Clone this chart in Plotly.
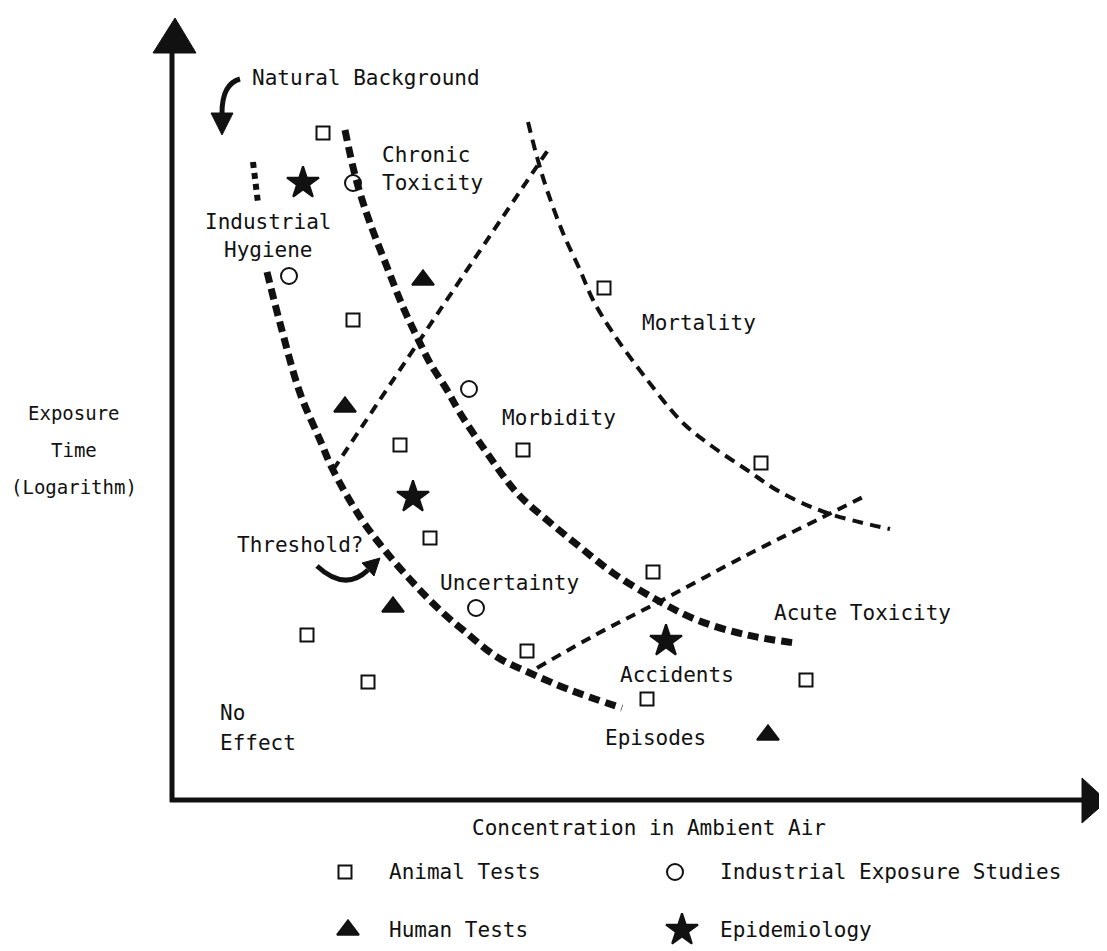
import plotly.graph_objects as go

# Schematic: concentration (x) vs exposure time (log, y), measured from the axis origin
animal_x = [151, 181, 228, 258, 351, 432, 589, 481, 355, 475, 634, 135, 196]
animal_y = [667, 480, 355, 262, 350, 512, 337, 228, 149, 101, 120, 165, 118]
industrial_x = [181, 117, 297, 304]
industrial_y = [617, 524, 411, 192]
human_x = [251, 173, 221, 596]
human_y = [520, 393, 193, 65]
epi_x = [131, 241, 494]
epi_y = [617, 303, 159]

# boundary curves
hygiene_top_x = [81, 86]
hygiene_top_y = [638, 597]
hygiene_x = [95, 108, 128, 148, 161, 188, 215, 245, 271, 291, 325, 358, 398, 450]
hygiene_y = [528, 477, 407, 360, 330, 283, 247, 213, 187, 170, 143, 127, 110, 92]
chronic_x = [173, 181, 188, 198, 215, 231, 245, 258, 275, 288, 315, 345, 375, 408, 441, 485, 525, 575, 623]
chronic_y = [670, 633, 607, 577, 533, 493, 463, 437, 410, 387, 347, 307, 280, 253, 227, 200, 180, 165, 157]
mortality_x = [356, 365, 375, 391, 408, 421, 441, 473, 511, 541, 575, 608, 655, 718]
mortality_y = [678, 643, 610, 567, 530, 500, 467, 423, 377, 353, 330, 308, 287, 271]
morbidity_x = [161, 268, 376]
morbidity_y = [330, 490, 650]
accident_x = [365, 425, 481, 575, 651, 695]
accident_y = [132, 166, 195, 245, 283, 305]

# region labels
label_text = ["Natural Background", "Chronic", "Toxicity", "Mortality", "Morbidity",
              "Threshold?", "Uncertainty", "Acute Toxicity", "Accidents", "Episodes",
              "No", "Effect"]
label_x = [78, 208, 208, 468, 328, 63, 266, 600, 446, 431, 46, 46]
label_y = [722, 645, 617, 477, 382, 255, 217, 187, 125, 62, 87, 57]

FONT = "DejaVu Sans Mono"
INK = "#111111"

fig = go.Figure()


def dashed(x, y, width, dash):
    fig.add_trace(go.Scatter(x=x, y=y, mode="lines", showlegend=False, hoverinfo="skip",
                             line=dict(color=INK, width=width, dash=dash, shape="spline")))


dashed(hygiene_top_x, hygiene_top_y, 6, "6px,5px")
dashed(hygiene_x, hygiene_y, 7, "11px,6px")
dashed(chronic_x, chronic_y, 7, "11px,6px")
dashed(mortality_x, mortality_y, 4, "11px,7px")
dashed(morbidity_x, morbidity_y, 4, "10px,7px")
dashed(accident_x, accident_y, 4, "10px,7px")


def points(x, y, symbol, size, name):
    fig.add_trace(go.Scatter(x=x, y=y, mode="markers", name=name, showlegend=False,
                             marker=dict(symbol=symbol, size=size, color=INK,
                                         line=dict(color=INK, width=2))))


points(animal_x, animal_y, "square-open", 13, "Animal Tests")
points(industrial_x, industrial_y, "circle-open", 16, "Industrial Exposure Studies")
points(human_x, human_y, "triangle-up", 19, "Human Tests")
points(epi_x, epi_y, "star", 24, "Epidemiology")

# manual legend under the axis
points([173], [-72], "square-open", 13, "Animal Tests")
points([503], [-72], "circle-open", 16, "Industrial Exposure Studies")
points([176], [-130], "triangle-up", 19, "Human Tests")
points([510], [-130], "star", 24, "Epidemiology")
legend_text = ["Animal Tests", "Industrial Exposure Studies", "Human Tests", "Epidemiology"]
legend_x = [215, 546, 215, 546]
legend_y = [-72, -72, -130, -130]

annotations = []
for t, x, y in zip(label_text, label_x, label_y):
    annotations.append(dict(x=x, y=y, text=t, xanchor="left", yanchor="middle", showarrow=False))
annotations.append(dict(x=96, y=578, text="Industrial", xanchor="center", yanchor="middle", showarrow=False))
annotations.append(dict(x=96, y=550, text="Hygiene", xanchor="center", yanchor="middle", showarrow=False))
for t, y in zip(["Exposure", "Time", "(Logarithm)"], [387, 350, 313]):
    annotations.append(dict(x=-98, y=y, text=t, xanchor="center", yanchor="middle",
                            showarrow=False, font=dict(size=19)))
annotations.append(dict(x=298, y=-28, text="Concentration in Ambient Air", xanchor="left",
                        yanchor="middle", showarrow=False))
for t, x, y in zip(legend_text, legend_x, legend_y):
    annotations.append(dict(x=x, y=y, text=t, xanchor="left", yanchor="middle", showarrow=False))

shapes = [
    # axes
    dict(type="line", x0=0, y0=-2, x1=0, y1=750, line=dict(color=INK, width=5)),
    dict(type="line", x0=-2, y0=0, x1=912, y1=0, line=dict(color=INK, width=5)),
    dict(type="path", path="M -19,747 L 24,747 L 3,782 Z", fillcolor=INK, line=dict(color=INK, width=1)),
    dict(type="path", path="M 910,22 L 910,-23 L 935,-1 Z", fillcolor=INK, line=dict(color=INK, width=1)),
    # curved pointer arrows
    dict(type="path", path="M 68,721 Q 50,716 50,687", line=dict(color=INK, width=5)),
    dict(type="path", path="M 39,687 L 61,687 L 50,665 Z", fillcolor=INK, line=dict(color=INK, width=1)),
    dict(type="path", path="M 145,234 Q 173,208 196,230", line=dict(color=INK, width=5)),
    dict(type="path", path="M 202,224 L 190,237 L 208,242 Z", fillcolor=INK, line=dict(color=INK, width=1)),
]

# the page adds an 8px body margin, so the ranges are offset to keep the origin in place
fig.update_layout(
    width=1107,
    height=951,
    margin=dict(l=0, r=0, t=0, b=0),
    paper_bgcolor="white",
    plot_bgcolor="white",
    font=dict(family=FONT, size=21, color=INK),
    xaxis=dict(range=[-164, 943], visible=False, fixedrange=True),
    yaxis=dict(range=[-159, 792], visible=False, fixedrange=True),
    annotations=annotations,
    shapes=shapes,
    showlegend=False,
)

fig.write_html("out.html")
